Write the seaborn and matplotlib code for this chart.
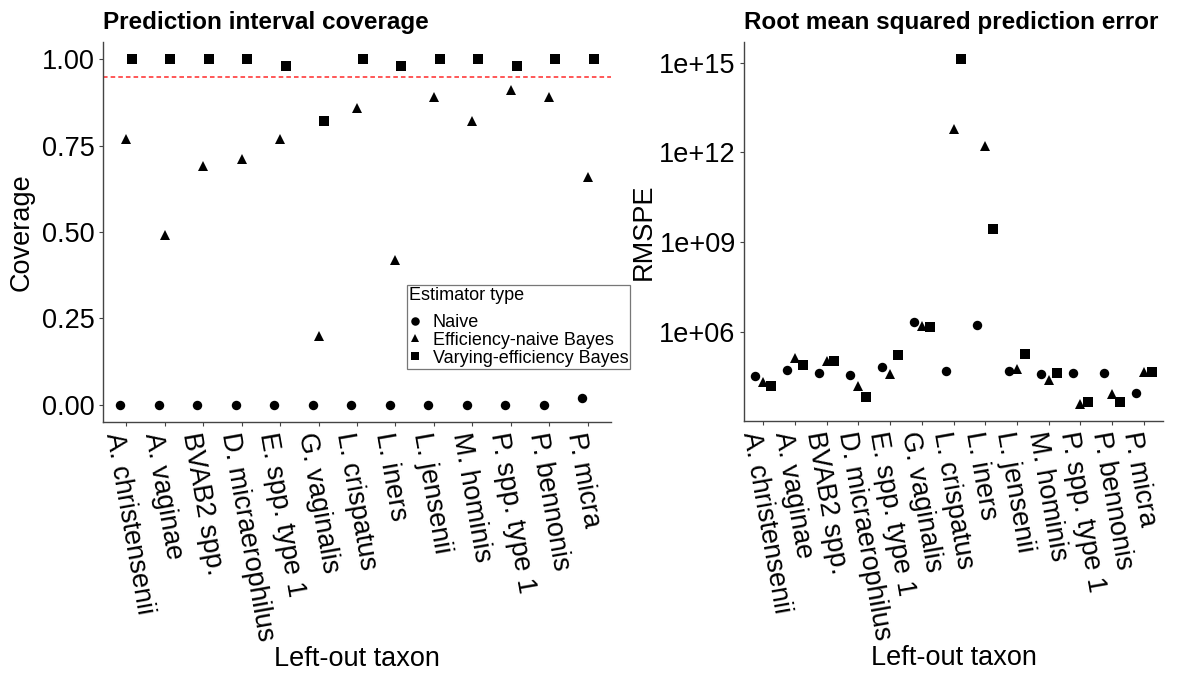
import numpy as np
import pandas as pd
import matplotlib
matplotlib.use("Agg")
import matplotlib.pyplot as plt
import seaborn as sns
from matplotlib.ticker import FixedLocator, FuncFormatter, NullLocator

taxa = ["A. christensenii", "A. vaginae", "BVAB2 spp.", "D. micraerophilus",
        "E. spp. type 1", "G. vaginalis", "L. crispatus", "L. iners",
        "L. jensenii", "M. hominis", "P. spp. type 1", "P. bennonis", "P. micra"]
estimators = ["Naive", "Efficiency-naive Bayes", "Varying-efficiency Bayes"]

coverage_naive = [0, 0, 0, 0, 0, 0, 0, 0, 0, 0, 0, 0, 0.02]
coverage_enb = [0.77, 0.49, 0.69, 0.71, 0.77, 0.20, 0.86, 0.42, 0.89, 0.82, 0.91, 0.89, 0.66]
coverage_veb = [1.00, 1.00, 1.00, 1.00, 0.98, 0.82, 1.00, 0.98, 1.00, 1.00, 0.98, 1.00, 1.00]

rmspe_naive = [3.5e4, 5.5e4, 4.4e4, 3.7e4, 6.8e4, 2.1e6, 5.2e4, 1.7e6, 5.2e4, 4.1e4, 4.4e4, 4.4e4, 9.3e3]
rmspe_enb = [2.2e4, 1.35e5, 1.1e5, 1.55e4, 4.1e4, 1.65e6, 6.3e12, 1.7e12, 6.0e4, 2.6e4, 4.1e3, 8.3e3, 4.6e4]
rmspe_veb = [1.6e4, 8.1e4, 1.05e5, 6.8e3, 1.7e5, 1.5e6, 1.35e15, 2.8e9, 1.8e5, 4.4e4, 4.5e3, 4.6e3, 4.6e4]

nominal_level = 0.95

sns.set_theme(style="ticks")
plt.rcParams["font.family"] = ["Liberation Sans", "DejaVu Sans"]
plt.rcParams["text.color"] = "black"
plt.rcParams["axes.labelcolor"] = "black"
plt.rcParams["xtick.color"] = "black"
plt.rcParams["ytick.color"] = "black"

cov_df = pd.DataFrame({
    "taxon": taxa * 3,
    "estimator": np.repeat(estimators, len(taxa)),
    "coverage": coverage_naive + coverage_enb + coverage_veb,
})
rmspe_df = pd.DataFrame({
    "taxon": taxa * 3,
    "estimator": np.repeat(estimators, len(taxa)),
    "rmspe": rmspe_naive + rmspe_enb + rmspe_veb,
})

W, H = 1178, 677
fig = plt.figure(figsize=(W / 100, H / 100), dpi=100)
axL = fig.add_axes([103 / W, 1 - 422 / H, 508 / W, 380 / H])
axR = fig.add_axes([744 / W, 1 - 421 / H, 419 / W, 379 / H])

pal = {e: "black" for e in estimators}
common = dict(x="taxon", hue="estimator", order=taxa, hue_order=estimators,
              palette=pal, markers=["o", "^", "s"], linestyles=["none"] * 3,
              errorbar=None, markersize=6.8, markeredgewidth=0)

sns.pointplot(data=cov_df, y="coverage", dodge=0.3, ax=axL, **common)
axL.axhline(nominal_level, color="#ff2a2a", linestyle=(0, (3, 2)), linewidth=1.1, zorder=0)

sns.pointplot(data=rmspe_df, y="rmspe", dodge=0.5, ax=axR, **common)
axR.set_yscale("log")

handles, labels = axL.get_legend_handles_labels()
for ax in (axL, axR):
    if ax.get_legend() is not None:
        ax.get_legend().remove()

# axes formatting
axL.set_xlim(-0.6, len(taxa) - 0.4)
axR.set_xlim(-0.6, len(taxa) - 0.4)
axL.set_ylim(-0.05, 1.05)
axL.set_yticks([0, 0.25, 0.5, 0.75, 1.0])
axL.set_yticklabels(["0.00", "0.25", "0.50", "0.75", "1.00"])

axR.set_ylim(10 ** 3.03, 10 ** 15.69)
axR.yaxis.set_major_locator(FixedLocator([1e6, 1e9, 1e12, 1e15]))
axR.yaxis.set_minor_locator(NullLocator())
axR.yaxis.set_major_formatter(FuncFormatter(lambda v, p: f"{v:.0e}"))

for ax in (axL, axR):
    sns.despine(ax=ax)
    for s in ("left", "bottom"):
        ax.spines[s].set_color("#444444")
        ax.spines[s].set_linewidth(1.0)
    ax.tick_params(axis="both", length=3, width=0.8, color="#444444",
                   labelsize=19.5, labelcolor="black", pad=3)
    ax.set_xticks(range(len(taxa)))
    ax.set_xticklabels(taxa, rotation=-80, ha="left", va="top",
                       rotation_mode="anchor", fontsize=19.5, color="black")
    ax.set_xlabel("Left-out taxon", fontsize=19.5, color="black")
    ax.xaxis.set_label_coords(0.5, -0.59)
    ax.grid(False)

axL.set_ylabel("Coverage", fontsize=19.5, labelpad=5, color="black")
axR.set_ylabel("RMSPE", fontsize=19.5, labelpad=2, color="black")

axL.set_title("Prediction interval coverage", loc="left", fontweight="bold",
              fontsize=17.5, pad=9, color="black")
axR.set_title("Root mean squared prediction error", loc="left", fontweight="bold",
              fontsize=17.5, pad=9, color="black")

leg = axL.legend(handles, labels, title="Estimator type",
                 bbox_to_anchor=(407 / W, 1 - 285 / H), loc="upper left",
                 bbox_transform=fig.transFigure, fontsize=13, title_fontsize=13,
                 frameon=True, fancybox=False, alignment="left",
                 handlelength=0.6, handletextpad=0.7, labelspacing=0.05,
                 borderpad=0.12, borderaxespad=0, markerscale=0.9)
leg._legend_box.sep = 7
leg.get_frame().set_edgecolor("#555555")
leg.get_frame().set_linewidth(0.9)
leg.get_frame().set_facecolor("white")
for t in leg.get_texts():
    t.set_color("black")
leg.get_title().set_color("black")

fig.savefig("out.png", dpi=100, facecolor="white")
